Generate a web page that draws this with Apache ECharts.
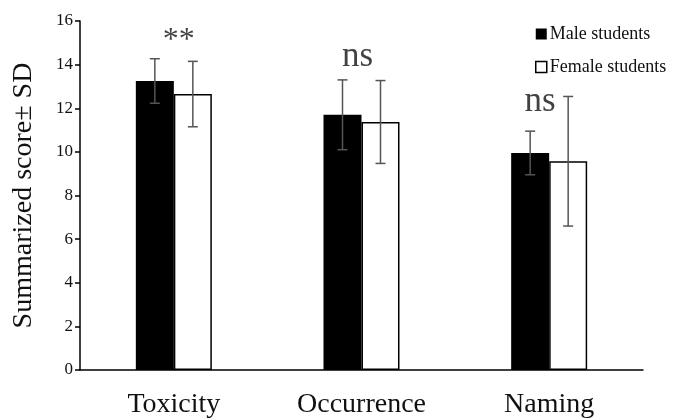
<!DOCTYPE html>
<html>
<head>
<meta charset="utf-8">
<script src="https://cdn.jsdelivr.net/npm/echarts@6/dist/echarts.min.js"></script>
<style>html,body{margin:0;padding:0;background:#fff;}#c{width:681px;height:418px;}</style>
</head>
<body>
<div id="c"></div>
<script>
const categories = ['Toxicity', 'Occurrence', 'Naming'];
const maleMean = [13.25, 11.7, 9.95];
const maleSD = [1.02, 1.6, 1.0];
const femaleMean = [12.65, 11.37, 9.57];
const femaleSD = [1.5, 1.9, 2.97];
const sigLabels = ['**', 'ns', 'ns'];
const sigY = [15.1, 14.35, 12.3];
const yTicks = [0, 2, 4, 6, 8, 10, 12, 14, 16];

const FONT = "'Liberation Serif', 'Times New Roman', serif";
const BAR_W = 38;

function errRender(offset) {
  return function (params, api) {
    const cat = api.value(0), m = api.value(1), sd = api.value(2);
    const hi = api.coord([cat, m + sd]);
    const lo = api.coord([cat, m - sd]);
    const x = hi[0] + offset;
    const cap = 5;
    const style = { stroke: '#555', lineWidth: 1.5 };
    return {
      type: 'group',
      children: [
        { type: 'line', shape: { x1: x, y1: hi[1], x2: x, y2: lo[1] }, style },
        { type: 'line', shape: { x1: x - cap, y1: hi[1], x2: x + cap, y2: hi[1] }, style },
        { type: 'line', shape: { x1: x - cap, y1: lo[1], x2: x + cap, y2: lo[1] }, style }
      ]
    };
  };
}

const chart = echarts.init(document.getElementById('c'));
chart.setOption({
  animation: false,
  backgroundColor: '#fff',
  grid: { left: 80, right: 38, top: 21, bottom: 48, outerBoundsMode: 'none', containLabel: false },
  legend: {
    orient: 'vertical',
    left: 535, top: 25, padding: 0,
    itemWidth: 11, itemHeight: 11, itemGap: 15,
    textStyle: { fontFamily: FONT, fontSize: 18, color: '#111', padding: [0, 0, 0, -2] },
    data: [
      { name: 'Male students', icon: 'rect', itemStyle: { color: '#000', borderWidth: 0 } },
      { name: 'Female students', icon: 'rect', itemStyle: { color: '#fff', borderColor: '#000', borderWidth: 1.5 } }
    ]
  },
  xAxis: {
    type: 'category',
    data: categories,
    axisLine: { lineStyle: { color: '#000', width: 1.5 } },
    axisTick: { show: false },
    axisLabel: { fontFamily: FONT, fontSize: 28, color: '#111', margin: 21 },
    splitLine: { show: false }
  },
  yAxis: {
    type: 'value',
    min: 0, max: 16, interval: 2,
    name: 'Summarized score± SD',
    nameLocation: 'middle',
    nameGap: 42,
    nameTextStyle: { fontFamily: FONT, fontSize: 28, color: '#111' },
    axisLine: { show: true, lineStyle: { color: '#000', width: 1.5 } },
    axisTick: { show: true, length: 5, lineStyle: { color: '#000', width: 1.5 } },
    axisLabel: { fontFamily: FONT, fontSize: 17, color: '#111', margin: 7,
      formatter: v => yTicks.includes(v) ? String(v) : '' },
    splitLine: { show: false }
  },
  series: [
    {
      name: 'Male students', type: 'bar', data: maleMean,
      barWidth: BAR_W, barGap: '0%',
      itemStyle: { color: '#000' }
    },
    {
      name: 'Female students', type: 'bar', data: femaleMean,
      barWidth: BAR_W, barGap: '0%',
      itemStyle: { color: '#fff', borderColor: '#000', borderWidth: 1.5 }
    },
    {
      type: 'custom', z: 10,
      renderItem: errRender(-BAR_W / 2),
      data: maleMean.map((m, i) => [i, m, maleSD[i]])
    },
    {
      type: 'custom', z: 10,
      renderItem: errRender(BAR_W / 2),
      data: femaleMean.map((m, i) => [i, m, femaleSD[i]])
    },
    {
      type: 'scatter', symbolSize: 0, z: 11,
      data: sigY.map((y, i) => ({
        value: [i, y],
        label: {
          show: true, position: 'inside',
          formatter: sigLabels[i],
          fontFamily: FONT,
          fontSize: sigLabels[i] === '**' ? 32 : 35,
          color: '#111',
          offset: [[5, -4, -9][i], 0]
        }
      }))
    }
  ]
});
</script>
</body>
</html>
